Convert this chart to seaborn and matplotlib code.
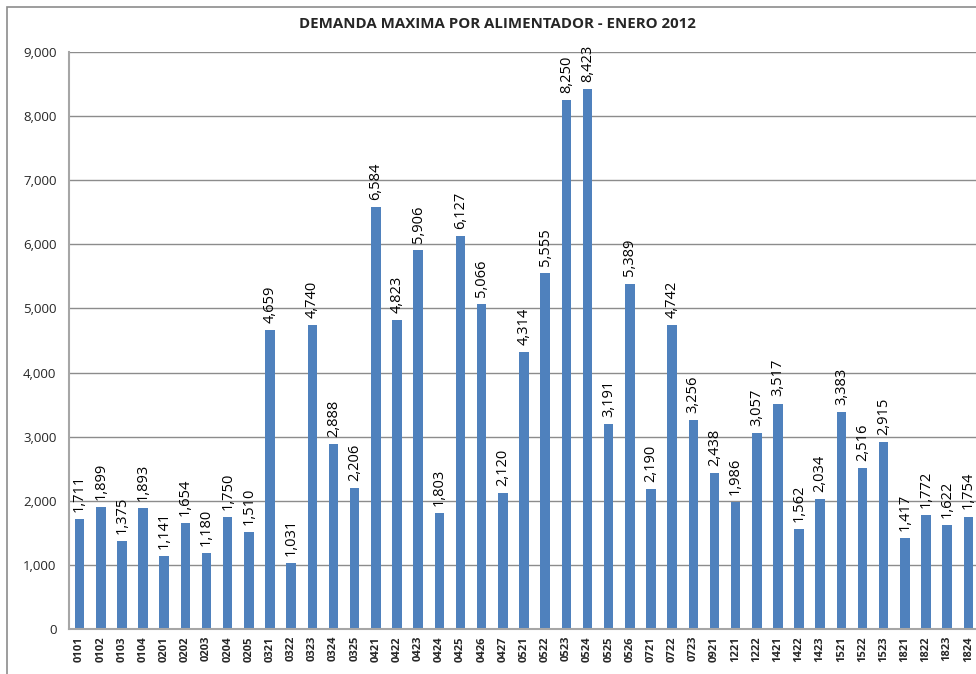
import matplotlib
matplotlib.use("Agg")
import matplotlib.pyplot as plt
import matplotlib.transforms as mtransforms
import seaborn as sns
import pandas as pd
from matplotlib.patches import Rectangle
from matplotlib.ticker import FuncFormatter

alimentadores = ["0101", "0102", "0103", "0104", "0201", "0202", "0203", "0204", "0205",
                 "0321", "0322", "0323", "0324", "0325", "0421", "0422", "0423", "0424",
                 "0425", "0426", "0427", "0521", "0522", "0523", "0524", "0525", "0526",
                 "0721", "0722", "0723", "0921", "1221", "1222", "1421", "1422", "1423",
                 "1521", "1522", "1523", "1821", "1822", "1823", "1824"]
demanda = [1711, 1899, 1375, 1893, 1141, 1654, 1180, 1750, 1510,
           4659, 1031, 4740, 2888, 2206, 6584, 4823, 5906, 1803,
           6127, 5066, 2120, 4314, 5555, 8250, 8423, 3191, 5389,
           2190, 4742, 3256, 2438, 1986, 3057, 3517, 1562, 2034,
           3383, 2516, 2915, 1417, 1772, 1622, 1754]
yticks = [0, 1000, 2000, 3000, 4000, 5000, 6000, 7000, 8000, 9000]
title = "DEMANDA MAXIMA POR ALIMENTADOR - ENERO 2012"

df = pd.DataFrame({"alim": alimentadores, "dem": demanda})

sns.set_style("white")
plt.rcParams['font.family'] = ['Open Sans', 'DejaVu Sans']

fig = plt.figure(figsize=(9.76, 6.74), dpi=100)
ax = fig.add_axes([69/976, 1 - 629/674, 1 - 69/976, (629 - 52)/674])

sns.barplot(data=df, x="alim", y="dem", color="#4F81BD", width=0.45,
            saturation=1, ax=ax, edgecolor="none")

ax.set_ylim(0, 9000)
ax.set_xlim(-0.5, 42.36)
ax.set_yticks(yticks)
ax.yaxis.set_major_formatter(FuncFormatter(lambda v, p: f"{int(v):,}"))
ax.yaxis.grid(True, color="#8c8c8c", linewidth=1.0)
ax.set_axisbelow(True)
ax.set_xlabel("")
ax.set_ylabel("")
for s in ["top", "right"]:
    ax.spines[s].set_visible(False)
for s in ["left", "bottom"]:
    ax.spines[s].set_color("#a6a6a6")
    ax.spines[s].set_linewidth(1.5)
ax.tick_params(axis="y", length=0, pad=9, labelsize=9.5)
ax.tick_params(axis="x", length=0, labelbottom=False)

trans = mtransforms.blended_transform_factory(ax.transData, fig.transFigure)
for i, lab in enumerate(alimentadores):
    ax.text(i, 1 - 636/674, lab, rotation=90, ha="center", va="top",
            fontsize=8, fontweight="bold", transform=trans, clip_on=False)

for i, v in enumerate(demanda):
    ax.text(i, v + 110, f"{v:,}", rotation=90, ha="center", va="bottom",
            fontsize=10.5, color="black")

fig.text(497/976, 1 - 24/674, title, ha="center", va="center",
         fontsize=10.8, fontweight="bold")

fig.patches.append(Rectangle((7/976, -0.05), 1.1, 1 - 7/674 + 0.05,
                             transform=fig.transFigure, fill=False,
                             edgecolor="#8c8c8c", linewidth=1.2))

fig.savefig("out.png", dpi=100)
